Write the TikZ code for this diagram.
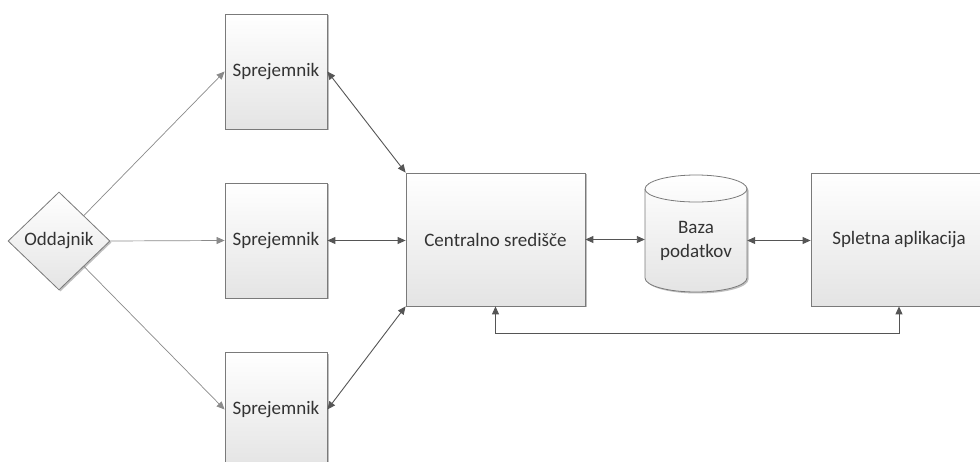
\documentclass[tikz,border=0pt]{standalone}
\usepackage{fontspec}
\setmainfont{Carlito}
\usetikzlibrary{shapes.geometric,arrows.meta,shadows}
\definecolor{linegray}{HTML}{555555}
\definecolor{lightline}{HTML}{8A8A8A}
\definecolor{boxborder}{HTML}{7A7A7A}
\definecolor{boxbottom}{HTML}{E4E4E4}
\definecolor{textcol}{HTML}{333333}
\tikzset{
  shade box/.style={top color=white, bottom color=boxbottom,
    drop shadow={shadow xshift=1.5pt, shadow yshift=-1.5pt, opacity=0.25, fill=black}},
  lbl/.style={font=\fontsize{19}{24}\selectfont, text=textcol, align=center, inner sep=0pt},
  box/.style={lbl, rectangle, draw=boxborder, line width=0.8pt, shade box},
  diam/.style={lbl, diamond, draw=boxborder, line width=0.8pt, shade box,
    minimum width=102pt, minimum height=98pt},
  tip/.tip={Triangle[length=8pt,width=7pt]},
  biarr/.style={draw=linegray, line width=0.9pt, tip-tip},
  onearr/.style={draw=lightline, line width=0.7pt, -tip},
}
\begin{document}
\begin{tikzpicture}[x=1pt,y=-1pt]
\useasboundingbox (0,0) rectangle (980,462);
\clip (0,0) rectangle (980,462);
% nodes
\node[diam] (odd) at (59,241) {Oddajnik};
\node[box, minimum width=102pt, minimum height=115pt] (s1) at (276,71.5) {Sprejemnik};
\node[box, minimum width=102pt, minimum height=115pt] (s2) at (276,240.5) {Sprejemnik};
\node[box, minimum width=102pt, minimum height=115pt] (s3) at (276,409.5) {Sprejemnik};
\node[box, minimum width=179pt, minimum height=133pt] (cen) at (495.5,239.5) {Centralno središče};
\node[box, minimum width=176pt, minimum height=133pt] (web) at (899,239.5) {Spletna aplikacija};
% database cylinder
\path[draw=boxborder, line width=0.8pt, shade box]
  (645,189) -- (645,278) arc[start angle=180, end angle=360, x radius=51pt, y radius=14pt]
  -- (747,189) arc[start angle=0, end angle=180, x radius=51pt, y radius=14pt] -- cycle;
\draw[boxborder, line width=0.8pt] (645,189) arc[start angle=180, end angle=360, x radius=51pt, y radius=13pt];
\node[lbl, minimum width=102pt, minimum height=100pt] (db) at (696,240.5) {Baza\\podatkov};
% connectors
\draw[onearr] (odd) -- (s1.west);
\draw[onearr] (odd.east) -- (s2.west);
\draw[onearr] (odd) -- (s3.west);
\draw[biarr] (s1.east) -- (cen.north west);
\draw[biarr] (s2.east) -- (s2.east -| cen.west);
\draw[biarr] (s3.east) -- (cen.south west);
\draw[biarr] (cen.east) -- (cen.east -| db.west);
\draw[biarr] (db.east) -- (db.east -| web.west);
\draw[biarr] (cen.south) -- ++(0,27) -| (web.south);
\end{tikzpicture}
\end{document}
